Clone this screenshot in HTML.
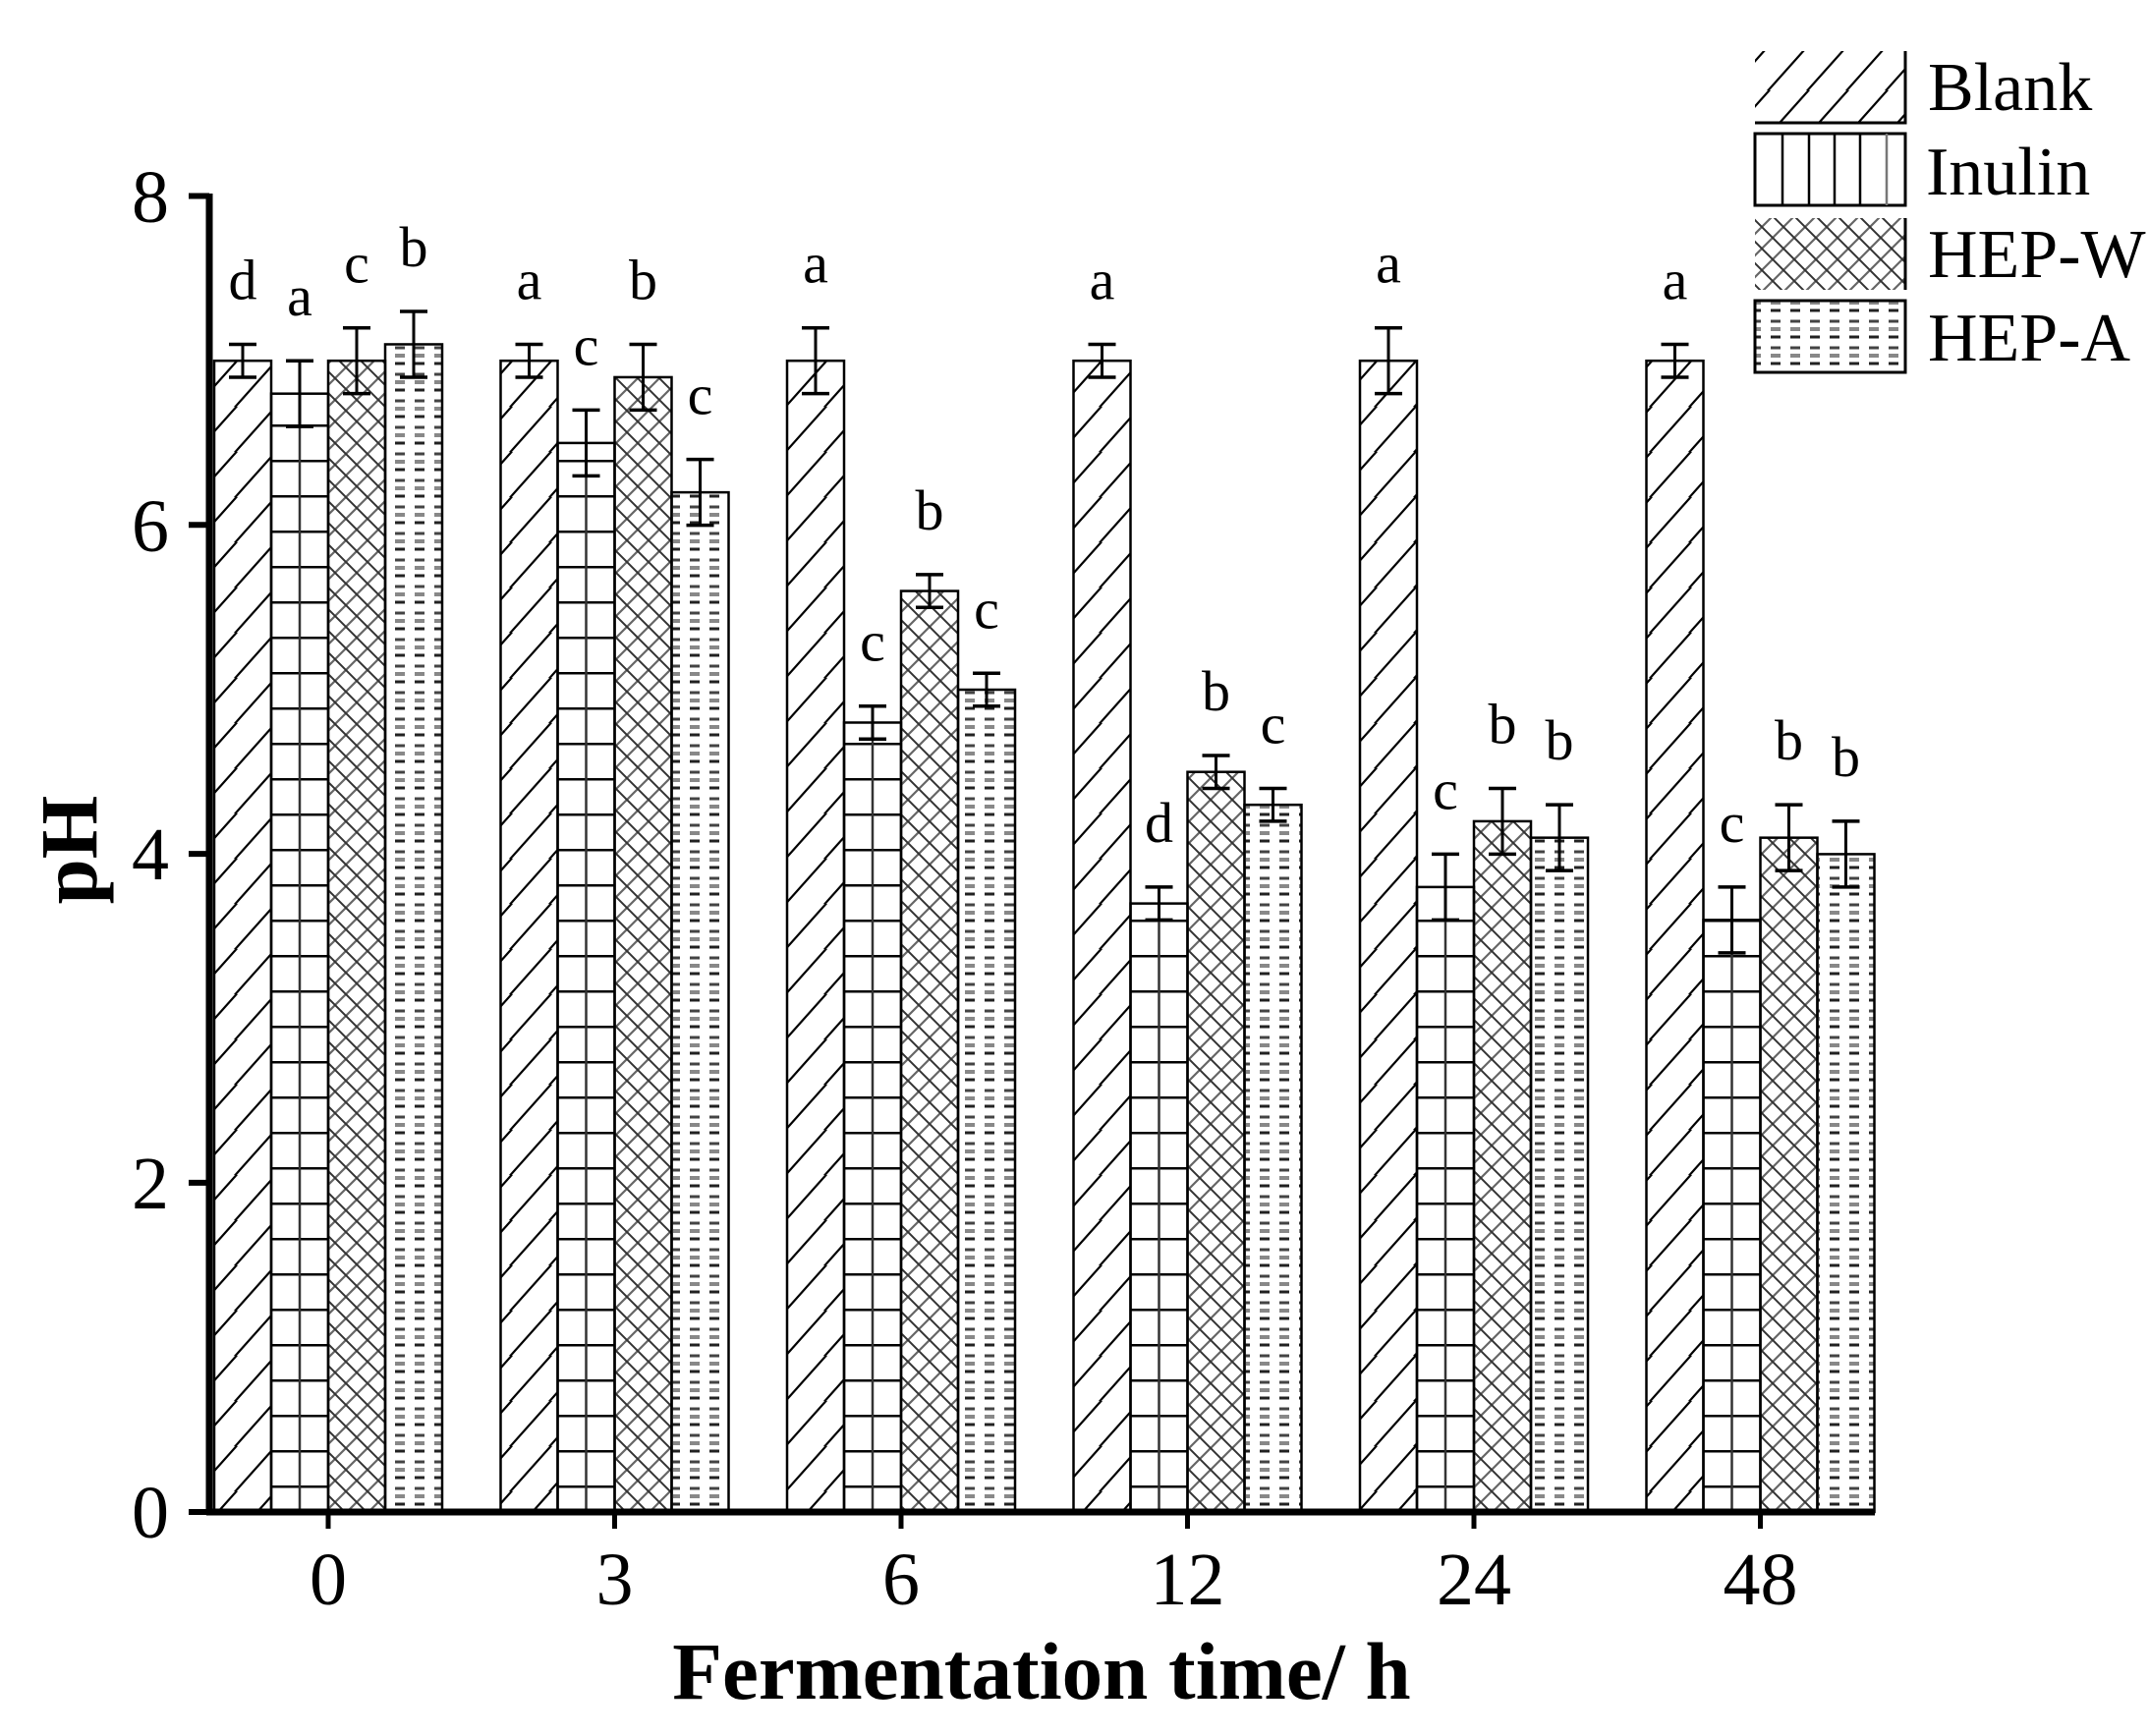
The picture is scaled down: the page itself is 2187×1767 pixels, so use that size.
<!DOCTYPE html>
<html><head><meta charset="utf-8"><style>html,body{margin:0;padding:0;background:#fff}svg{display:block}</style></head>
<body>
<svg width="2187" height="1767" viewBox="0 0 2187 1767" xmlns="http://www.w3.org/2000/svg" font-family="'Liberation Serif', serif">
<defs>
<pattern id="pb" patternUnits="userSpaceOnUse" width="40" height="46">
<line x1="-5" y1="51" x2="45" y2="-5" stroke="#000" stroke-width="2.2"/>
<line x1="-45" y1="51" x2="5" y2="-5" stroke="#000" stroke-width="2.2"/>
<line x1="35" y1="51" x2="85" y2="-5" stroke="#000" stroke-width="2.2"/>
</pattern>
<pattern id="pi" patternUnits="userSpaceOnUse" width="200" height="36">
<line x1="0" y1="1" x2="200" y2="1" stroke="#000" stroke-width="3"/>
</pattern>
<pattern id="pw" patternUnits="userSpaceOnUse" width="22" height="22">
<path d="M0 22 L22 0 M-5 5 L5 -5 M17 27 L27 17" stroke="#666" stroke-width="2.2"/>
<path d="M0 0 L22 22 M-5 17 L5 27 M17 -5 L27 5" stroke="#333" stroke-width="2"/>
</pattern>
<pattern id="pa" patternUnits="userSpaceOnUse" width="20" height="27">
<line x1="2" y1="3" x2="12" y2="3" stroke="#444" stroke-width="3"/>
<line x1="2" y1="11" x2="12" y2="11" stroke="#888" stroke-width="4"/>
<line x1="2" y1="19" x2="12" y2="19" stroke="#222" stroke-width="3"/>
</pattern>
</defs>

<g id="bars" stroke="#000" stroke-width="2.5"></g>

<!-- axes -->
<line x1="213" y1="197" x2="213" y2="1542" stroke="#000" stroke-width="7"/>
<line x1="210" y1="1539" x2="1908" y2="1539" stroke="#000" stroke-width="7"/>
<g stroke="#000" stroke-width="6">
<line x1="192" y1="199.5" x2="213" y2="199.5"/>
<line x1="192" y1="534.3" x2="213" y2="534.3"/>
<line x1="192" y1="869.1" x2="213" y2="869.1"/>
<line x1="192" y1="1203.9" x2="213" y2="1203.9"/>
<line x1="192" y1="1539" x2="213" y2="1539"/>
</g>
<g font-size="76" text-anchor="end">
<text x="172" y="226">8</text>
<text x="172" y="561">6</text>
<text x="172" y="895">4</text>
<text x="172" y="1230">2</text>
<text x="172" y="1565">0</text>
</g>
<g font-size="76" text-anchor="middle" id="xl"></g>
<text x="1060" y="1729" font-size="83" font-weight="bold" text-anchor="middle">Fermentation time/ h</text>
<text transform="translate(98,865) rotate(-90)" font-size="83" font-weight="bold" text-anchor="middle">pH</text>

<!-- legend -->
<rect x="1786" y="52" width="153" height="73" fill="url(#pb)" stroke="none"/>
<path d="M1939 52 V125 H1786" fill="none" stroke="#000" stroke-width="3"/>
<rect x="1786" y="136" width="153" height="73" fill="#fff" stroke="#000" stroke-width="3"/>
<g stroke="#000" stroke-width="2.5"><line x1="1814" y1="136" x2="1814" y2="209"/><line x1="1841" y1="136" x2="1841" y2="209"/><line x1="1867" y1="136" x2="1867" y2="209"/><line x1="1893" y1="136" x2="1893" y2="209"/><line x1="1920" y1="136" x2="1920" y2="209" stroke="#777"/></g>
<rect x="1786" y="222" width="153" height="73" fill="url(#pw)" stroke="none"/>
<line x1="1939" y1="222" x2="1939" y2="295" stroke="#000" stroke-width="3"/>
<rect x="1786" y="306" width="153" height="73" fill="url(#pa)" stroke="#000" stroke-width="3"/>
<g font-size="70">
<text x="1962" y="112">Blank</text>
<text x="1960" y="198">Inulin</text>
<text x="1962" y="282">HEP-W</text>
<text x="1962" y="367">HEP-A</text>
</g>

<script>
(function(){
var NS="http://www.w3.org/2000/svg";
function Y(v){return 1539-v*167.4;}
var data=[
[[7.0,.1,'d'],[6.8,.2,'a'],[7.0,.2,'c'],[7.1,.2,'b']],
[[7.0,.1,'a'],[6.5,.2,'c'],[6.9,.2,'b'],[6.2,.2,'c']],
[[7.0,.2,'a'],[4.8,.1,'c'],[5.6,.1,'b'],[5.0,.1,'c']],
[[7.0,.1,'a'],[3.7,.1,'d'],[4.5,.1,'b'],[4.3,.1,'c']],
[[7.0,.2,'a'],[3.8,.2,'c'],[4.2,.2,'b'],[4.1,.2,'b']],
[[7.0,.1,'a'],[3.6,.2,'c'],[4.1,.2,'b'],[4.0,.2,'b']]];
var labs=['0','3','6','12','24','48'];
var fills=['url(#pb)','url(#pi)','url(#pw)','url(#pa)'];
var g=document.getElementById('bars'), xl=document.getElementById('xl');
var w=58;
function el(t,a,p){var e=document.createElementNS(NS,t);for(var k in a)e.setAttribute(k,a[k]);(p||g).appendChild(e);return e;}
for(var i=0;i<6;i++){
 var c=334+291.5*i;
 for(var j=0;j<4;j++){
  var d=data[i][j],x=c-2*w+j*w,y=Y(d[0]);
  el('rect',{x:x,y:y,width:w,height:1539-y,fill:fills[j],stroke:'#000','stroke-width':2.5});
  if(j==1) el('line',{x1:x+w/2,y1:y,x2:x+w/2,y2:1539,stroke:'#333','stroke-width':2.5});
  var t=Y(d[0]+d[1]),b=Y(d[0]-d[1]),cx=x+w/2;
  el('line',{x1:cx,y1:t,x2:cx,y2:b,stroke:'#000','stroke-width':3});
  el('line',{x1:cx-14,y1:t,x2:cx+14,y2:t,stroke:'#000','stroke-width':3.5});
  el('line',{x1:cx-14,y1:b,x2:cx+14,y2:b,stroke:'#000','stroke-width':3.5});
  var tx=el('text',{x:cx,y:t-46,'font-size':58,'text-anchor':'middle',stroke:'none',fill:'#000'});
  tx.textContent=d[2];
 }
 el('line',{x1:c,y1:1539,x2:c,y2:1556,stroke:'#000','stroke-width':5});
 var l=el('text',{x:c,y:1633},xl);l.textContent=labs[i];
}
})();
</script>
</svg>
</body></html>
